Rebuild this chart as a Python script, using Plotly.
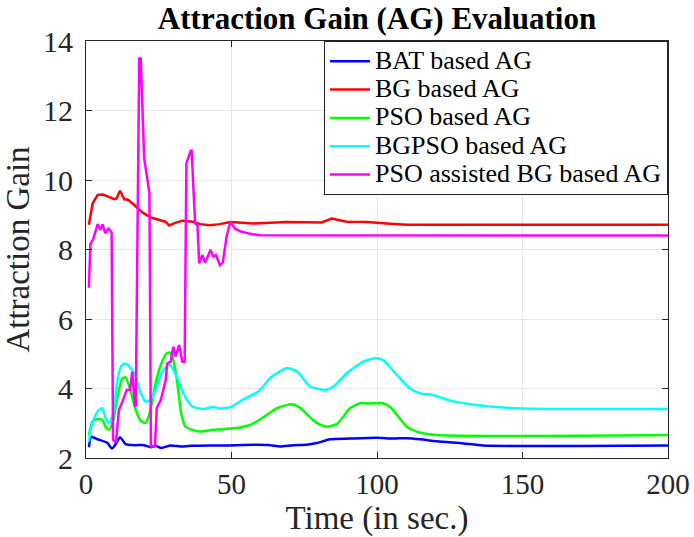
import plotly.graph_objects as go

# ---- data ----
t_bat = [1, 1.8, 3.9, 7.3, 8.9, 10.5, 11.7, 13.6, 16.5, 19.9, 22.2, 23.9, 25.9, 29.1, 32.5, 36,
         47.2, 58.7, 63.3, 66.7, 71.2, 75.8, 79.3, 83.8, 90.7, 99.9, 105.6, 110.2, 114.8, 120.5,
         129.7, 136.5, 200]
bat = [2.31, 2.61, 2.54, 2.44, 2.27, 2.44, 2.6, 2.4, 2.37, 2.37, 2.31, 2.35, 2.29, 2.36, 2.33, 2.35,
       2.36, 2.38, 2.37, 2.33, 2.37, 2.38, 2.43, 2.54, 2.56, 2.58, 2.56, 2.57, 2.54, 2.48,
       2.42, 2.36, 2.36]

t_bg = [1, 2.3, 4, 5.7, 7.4, 9.7, 10.5, 11.7, 13.2, 14.3, 16.6, 19.5, 22.3, 25.2, 27.3, 28.6,
        30.4, 33.2, 36.7, 39.2, 42.6, 46, 49.6, 57.5, 69, 81, 84.4, 89.6, 96.5, 103.3, 110.2, 200]
bg = [8.71, 9.33, 9.57, 9.58, 9.53, 9.45, 9.47, 9.69, 9.44, 9.44, 9.28, 9.06, 8.92, 8.86, 8.8, 8.69,
      8.76, 8.83, 8.8, 8.73, 8.7, 8.73, 8.79, 8.75, 8.79, 8.78, 8.89, 8.8, 8.79, 8.75, 8.71, 8.71]

t_pso = [1, 2.2, 3.4, 5.6, 6.8, 7.9, 9.4, 10.8, 12.5, 13.6, 15.1, 17.1, 18.8, 20.5, 22, 23.9, 25.9,
         27.7, 28.9, 30, 31.4, 32.7, 34.2, 36.5, 39.2, 42.6, 47.2, 52.9, 56.4, 60.6, 65.5, 70.7,
         73.5, 78.7, 82.7, 86.4, 90.7, 94.2, 97.6, 101.6, 104.5, 110.2, 113.6, 120.5, 200]
pso = [2.66, 3.05, 3.11, 3.1, 2.88, 2.81, 3.1, 3.76, 4.29, 4.32, 4.0, 3.38, 3.07, 3.01, 3.33, 4.15, 4.72,
       5.01, 5.03, 4.82, 4.15, 3.29, 2.9, 2.81, 2.76, 2.8, 2.83, 2.88, 2.95, 3.15, 3.43, 3.55,
       3.45, 3.04, 2.9, 2.99, 3.43, 3.58, 3.57, 3.58, 3.47, 2.9, 2.76, 2.66, 2.66]

t_bgpso = [1, 1.8, 3.9, 5.6, 6.8, 7.9, 9.4, 10.8, 12.1, 13.6, 15.4, 17.1, 18.8, 20.5, 22, 23.9, 25.9,
           28.4, 29.4, 31.4, 33.7, 36.5, 40.3, 43.7, 46, 50.1, 54.1, 59.2, 63.8, 69, 72.4, 77, 79.3,
           82.1, 85, 89.6, 95.3, 99.6, 102, 106.8, 111.3, 114.8, 119.3, 125.1, 130.8, 138.8, 148,
           160, 200]
bgpso = [2.47, 2.9, 3.33, 3.43, 3.14, 3.0, 3.29, 4.24, 4.65, 4.72, 4.58, 4.34, 3.86, 3.62, 3.67, 3.95, 4.44,
         4.68, 4.63, 4.3, 3.82, 3.48, 3.41, 3.47, 3.42, 3.48, 3.69, 3.91, 4.34, 4.58, 4.5, 4.05, 4.0,
         3.96, 4.05, 4.44, 4.77, 4.87, 4.82, 4.39, 4.0, 3.86, 3.81, 3.65, 3.56, 3.48, 3.43,
         3.41, 3.41]

t_pbg = [1, 1.5, 2.5, 4, 4.9, 5.7, 6.6, 7.7, 8.8, 9.3, 10.3, 11.3, 12.5, 14, 15.1, 15.9, 16.8, 17.1,
         18.3, 18.8, 20, 21.8, 22.3, 23.7, 24.3, 25.7, 27.4, 27.9, 29.1, 30, 30.8, 32, 33.1, 33.9,
         34.5, 36, 36.3, 37.5, 38.3, 38.9, 40, 40.9, 42.8, 43.7, 44.7, 46, 47, 48.3, 49.6, 51.2,
         53.5, 56.4, 60, 200]
pbg = [6.9, 8.15, 8.3, 8.73, 8.56, 8.72, 8.47, 8.6, 8.5, 2.52, 2.45, 3.38, 3.62, 3.96, 3.96, 4.48, 3.53, 3.48,
       13.5, 13.5, 10.62, 9.62, 2.33, 2.33, 3.43, 3.67, 4.24, 4.72, 4.77, 5.2, 4.92, 5.25, 4.77, 4.77,
       10.48, 10.84, 10.84, 8.75, 8.7, 7.6, 7.84, 7.62, 7.99, 7.8, 7.84, 7.55, 7.62, 8.37, 8.8, 8.6,
       8.51, 8.45, 8.41, 8.4]

names = ["BAT based AG", "BG based AG", "PSO based AG", "BGPSO based AG", "PSO assisted BG based AG"]
colors = ["#0000ff", "#ff0000", "#00ff00", "#00ffff", "#ff00ff"]
xs = [t_bat, t_bg, t_pso, t_bgpso, t_pbg]
ys = [bat, bg, pso, bgpso, pbg]
shapes = ["spline", "linear", "spline", "spline", "linear"]

x_ticks = [0, 50, 100, 150, 200]
y_ticks = [2, 4, 6, 8, 10, 12, 14]

FONT = "Liberation Serif, Times New Roman, serif"
AX = "#262626"

fig = go.Figure()
for x, y, n, c, s in zip(xs, ys, names, colors, shapes):
    line = dict(color=c, width=2.5, shape=s)
    if s == "spline":
        line["smoothing"] = 0.6
    # legend text drawn larger than the legend's line-height font, to keep rows compact
    fig.add_trace(go.Scatter(x=x, y=y, name=f'<span style="font-size:26px">{n}</span>',
                             mode="lines", line=line))

axis_common = dict(
    showgrid=True, gridcolor="#e6e6e6", gridwidth=1,
    showline=True, linecolor=AX, linewidth=1, mirror="ticks",
    ticks="inside", ticklen=6, tickcolor=AX, tickwidth=1,
    zeroline=False, automargin=False,
)

fig.update_layout(
    width=694, height=537,
    margin=dict(l=86, r=26, t=41, b=79),
    paper_bgcolor="white", plot_bgcolor="white",
    title=dict(text="<b>Attraction Gain (AG) Evaluation</b>", x=0.5, xref="paper",
               y=0.966, yanchor="middle",
               font=dict(family=FONT, size=31, color="black")),
    xaxis=dict(range=[0, 200], tickvals=x_ticks, ticklabelstandoff=0,
               tickfont=dict(family=FONT, size=29, color=AX),
               title=dict(text="Time (in sec.)", font=dict(family=FONT, size=33, color=AX), standoff=12),
               **axis_common),
    yaxis=dict(range=[2, 14], tickvals=y_ticks, ticklabelstandoff=6,
               tickfont=dict(family=FONT, size=30, color=AX),
               title=dict(text="Attraction Gain", font=dict(family=FONT, size=33, color=AX), standoff=4),
               **axis_common),
    legend=dict(x=1, y=1, xanchor="right", yanchor="top",
                bgcolor="white", bordercolor=AX, borderwidth=1,
                font=dict(family=FONT, size=19.5, color="black"),
                tracegroupgap=0, itemwidth=40),
    showlegend=True,
)

fig.write_html("out.html", config={"displayModeBar": False},
               post_script="document.body.style.margin='0';document.body.style.padding='0';")
